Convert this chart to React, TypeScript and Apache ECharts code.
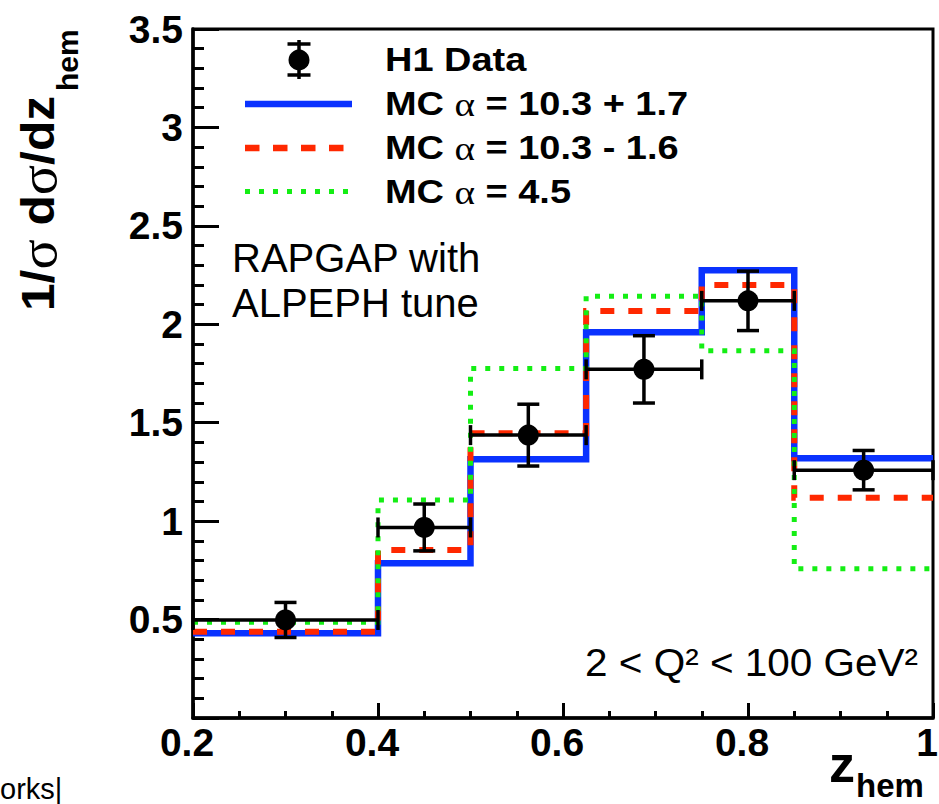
import React, { useEffect, useRef } from 'react';
import * as echarts from 'echarts';

// ---- data ----
const binEdges = [0.2, 0.4, 0.5, 0.625, 0.75, 0.85, 1.0];
const dataX = [0.3, 0.45, 0.5625, 0.6875, 0.8, 0.925];
const dataY = [0.498, 0.968, 1.437, 1.771, 2.119, 1.259];
const dataErr = [0.089, 0.119, 0.157, 0.171, 0.151, 0.1];
const mcHigh = [0.43, 0.786, 1.314, 1.959, 2.275, 1.319]; // MC alpha = 10.3 + 1.7 (blue)
const mcLow = [0.438, 0.853, 1.446, 2.067, 2.199, 1.119]; // MC alpha = 10.3 - 1.6 (red)
const mcAlt = [0.487, 1.107, 1.776, 2.143, 1.865, 0.758]; // MC alpha = 4.5 (green)
const legendLabels = ['H1 Data', 'MC α = 10.3 + 1.7', 'MC α = 10.3 - 1.6', 'MC α = 4.5'];
const xTitle = ['z', 'hem'];
const yTitle = ['1/σ dσ/dz', 'hem'];
const noteLines = ['RAPGAP with', 'ALPEPH tune'];
const rangeNote = '2 < Q² < 100 GeV²';

const SANS = "'Liberation Sans', Arial, Helvetica, sans-serif";
const SERIF = "'Liberation Serif', 'DejaVu Serif', serif";
const BLUE = '#0a32ff';
const RED = '#ff2800';
const GREEN = '#14ee14';

function stepData(vals: number[]) {
  return binEdges.map((e, i) => [e, vals[Math.min(i, vals.length - 1)]]);
}

function richGreek(text: string, greek: string, style: string) {
  const parts = text.split(greek);
  const out: string[] = [];
  parts.forEach((p, i) => {
    if (p.length) out.push(`{${style}|${p}}`);
    if (i < parts.length - 1) out.push(`{g|${greek}}`);
  });
  return out.join('');
}

export default function App() {
  const ref = useRef<HTMLDivElement>(null);
  useEffect(() => {
    if (!ref.current) return;
    const chart = echarts.init(ref.current, undefined, { renderer: 'svg' });
    const axisFont = { fontFamily: SANS, fontWeight: 'bold' as const, fontSize: 39, color: '#000' };
    const legendRows = [60, 104, 148, 192];
    const errData = dataX.map((x, i) => [x, dataY[i], dataErr[i], binEdges[i], binEdges[i + 1]]);

    const legendTexts = legendLabels.map((lab, i) => ({
      type: 'text',
      x: 385,
      y: legendRows[i],
      scaleX: 1.15,
      z: 100,
      style: {
        text: lab.includes('α') ? richGreek(lab, 'α', 'b') : `{b|${lab}}`,
        align: 'left',
        verticalAlign: 'middle',
        rich: {
          b: { fontFamily: SANS, fontWeight: 'bold', fontSize: 33, fill: '#000', color: '#000' },
          g: { fontFamily: SERIF, fontWeight: 'normal', fontSize: 34, fill: '#000', color: '#000' },
        },
      },
    }));

    const option: any = {
      animation: false,
      backgroundColor: '#fff',
      grid: {
        left: 193,
        right: 6,
        top: 29,
        bottom: 86,
        show: true,
        borderColor: '#000',
        borderWidth: 3,
        backgroundColor: 'transparent',
        outerBoundsMode: 'none',
      },
      xAxis: {
        type: 'value',
        min: 0.2,
        max: 1.0,
        interval: 0.2,
        axisLine: { show: true, onZero: false, lineStyle: { color: '#000', width: 3.5 } },
        axisTick: { show: true, inside: true, length: 15, lineStyle: { color: '#000', width: 3 } },
        minorTick: { show: true, splitNumber: 4, length: 7, lineStyle: { color: '#000', width: 3 } },
        splitLine: { show: false },
        axisLabel: {
          ...axisFont,
          margin: 5,
          padding: [0, 12, 0, 0],
          showMinLabel: true,
          showMaxLabel: true,
          hideOverlap: false,
          formatter: (v: number) => String(+v.toFixed(2)),
        },
      },
      yAxis: {
        type: 'value',
        min: 0,
        max: 3.5,
        interval: 0.5,
        axisLine: { show: true, onZero: false, lineStyle: { color: '#000', width: 3.5 } },
        axisTick: { show: true, inside: true, length: 26, lineStyle: { color: '#000', width: 3 } },
        minorTick: { show: true, splitNumber: 5, length: 11, lineStyle: { color: '#000', width: 3 } },
        splitLine: { show: false },
        axisLabel: {
          ...axisFont,
          margin: 10,
          showMinLabel: true,
          showMaxLabel: true,
          hideOverlap: false,
          formatter: (v: number) => (v === 0 ? '' : String(+v.toFixed(2))),
        },
      },
      series: [
        {
          name: legendLabels[1],
          type: 'line',
          step: 'end',
          data: stepData(mcHigh),
          symbol: 'none',
          showSymbol: false,
          z: 3,
          lineStyle: { color: BLUE, width: 6.5, join: 'miter', cap: 'butt' },
        },
        {
          name: legendLabels[2],
          type: 'line',
          step: 'end',
          data: stepData(mcLow),
          symbol: 'none',
          showSymbol: false,
          z: 4,
          lineStyle: { color: RED, width: 6, type: [14, 14], join: 'miter', cap: 'butt' },
        },
        {
          name: legendLabels[3],
          type: 'line',
          step: 'end',
          data: stepData(mcAlt),
          symbol: 'none',
          showSymbol: false,
          z: 5,
          lineStyle: { color: GREEN, width: 5, type: [5, 9], join: 'miter', cap: 'butt' },
        },
        {
          name: legendLabels[0],
          type: 'custom',
          z: 10,
          clip: false,
          encode: { x: 0, y: 1 },
          data: errData,
          renderItem: (params: any, api: any) => {
            const x = api.value(0);
            const y = api.value(1);
            const e = api.value(2);
            const lo = api.value(3);
            const hi = api.value(4);
            const c = api.coord([x, y]);
            const t = api.coord([x, y + e]);
            const b = api.coord([x, y - e]);
            const l = api.coord([lo, y]);
            const r = api.coord([hi, y]);
            const st = { stroke: '#000', lineWidth: 3.5 };
            const ln = (x1: number, y1: number, x2: number, y2: number) => ({
              type: 'line',
              shape: { x1, y1, x2, y2 },
              style: st,
            });
            return {
              type: 'group',
              children: [
                ln(l[0], c[1], r[0], c[1]),
                ln(l[0], c[1] - 10, l[0], c[1] + 10),
                ln(r[0], c[1] - 10, r[0], c[1] + 10),
                ln(c[0], t[1], c[0], b[1]),
                ln(c[0] - 11, t[1], c[0] + 11, t[1]),
                ln(c[0] - 11, b[1], c[0] + 11, b[1]),
                { type: 'circle', shape: { cx: c[0], cy: c[1], r: 10.5 }, style: { fill: '#000' } },
              ],
            };
          },
        },
      ],
      graphic: [
        // legend marker for data
        { type: 'line', z: 100, shape: { x1: 299, y1: 40, x2: 299, y2: 79 }, style: { stroke: '#000', lineWidth: 3.5 } },
        { type: 'line', z: 100, shape: { x1: 287.5, y1: 44, x2: 310.5, y2: 44 }, style: { stroke: '#000', lineWidth: 3.5 } },
        { type: 'line', z: 100, shape: { x1: 287.5, y1: 75, x2: 310.5, y2: 75 }, style: { stroke: '#000', lineWidth: 3.5 } },
        { type: 'circle', z: 100, shape: { cx: 299, cy: 60, r: 10.5 }, style: { fill: '#000' } },
        // legend lines
        { type: 'line', z: 100, shape: { x1: 245, y1: 104, x2: 352, y2: 104 }, style: { stroke: BLUE, lineWidth: 6.5 } },
        { type: 'line', z: 100, shape: { x1: 245, y1: 148, x2: 352, y2: 148 }, style: { stroke: RED, lineWidth: 6.5, lineDash: [14.5, 13.5] } },
        { type: 'line', z: 100, shape: { x1: 245, y1: 191.5, x2: 350, y2: 191.5 }, style: { stroke: GREEN, lineWidth: 5, lineDash: [5, 9] } },
        ...legendTexts,
        // annotations
        ...noteLines.map((t, i) => ({
          type: 'text',
          x: 232,
          y: 258 + i * 45,
          z: 100,
          style: { text: t, font: `40px ${SANS}`, fill: '#000', align: 'left', verticalAlign: 'middle' },
        })),
        {
          type: 'text',
          x: 918,
          y: 662,
          scaleX: 1.065,
          z: 100,
          style: { text: rangeNote, font: `38px ${SANS}`, fill: '#000', align: 'right', verticalAlign: 'middle' },
        },
        // x axis title
        {
          type: 'text',
          x: 829,
          y: 764,
          z: 100,
          style: { text: xTitle[0], font: `bold 52px ${SANS}`, fill: '#000', align: 'left', verticalAlign: 'middle' },
        },
        {
          type: 'text',
          x: 856,
          y: 785,
          z: 100,
          style: { text: xTitle[1], font: `bold 33px ${SANS}`, fill: '#000', align: 'left', verticalAlign: 'middle' },
        },
        // y axis title (rotated)
        {
          type: 'text',
          x: 38.5,
          y: 311,
          rotation: Math.PI / 2,
          scaleX: 1.08,
          z: 100,
          style: {
            text: richGreek(yTitle[0], 'σ', 'b'),
            align: 'left',
            verticalAlign: 'middle',
            rich: {
              b: { fontFamily: SANS, fontWeight: 'bold', fontSize: 46, fill: '#000', color: '#000' },
              g: { fontFamily: SERIF, fontWeight: 'normal', fontSize: 52, fill: '#000', color: '#000' },
            },
          },
        },
        {
          type: 'text',
          x: 67.5,
          y: 91,
          rotation: Math.PI / 2,
          z: 100,
          style: { text: yTitle[1], font: `bold 30px ${SANS}`, fill: '#000', align: 'left', verticalAlign: 'middle' },
        },
        // cropped caption at the bottom left
        {
          type: 'text',
          x: 0,
          y: 789,
          z: 100,
          style: { text: 'orks|', font: `29px ${SANS}`, fill: '#000', align: 'left', verticalAlign: 'middle' },
        },
      ],
    };
    chart.setOption(option);
    return () => chart.dispose();
  }, []);
  return (
    <div
      ref={ref}
      style={{ position: 'fixed', left: 0, top: 0, width: 939, height: 804, background: '#fff' }}
    />
  );
}
